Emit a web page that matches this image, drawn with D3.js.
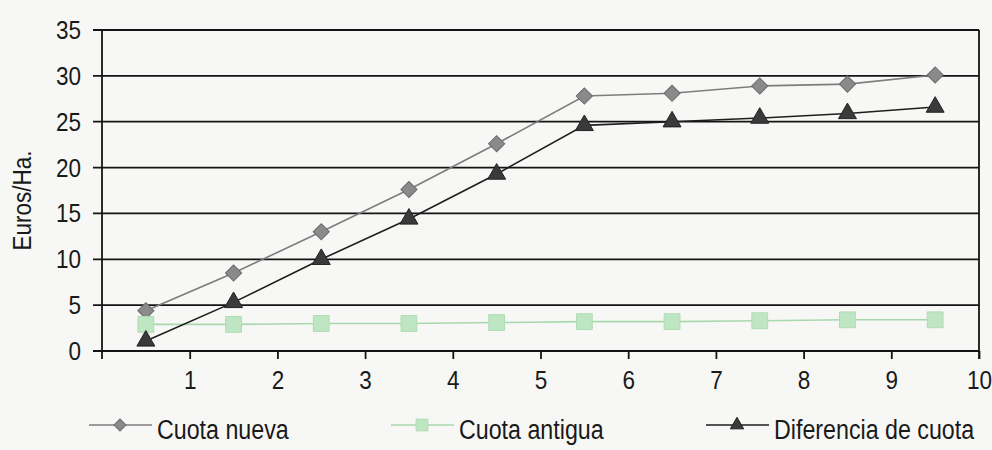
<!DOCTYPE html>
<html>
<head>
<meta charset="utf-8">
<script src="https://cdn.jsdelivr.net/npm/d3@7"></script>
<style>
  body { margin: 0; background: #f7f8f5; }
  svg { display: block; }
  text { font-family: "Liberation Sans", Arial, sans-serif; fill: #1a1a1a; }
</style>
</head>
<body>
<svg width="992" height="450"></svg>
<script>
const periods = [0.5, 1.5, 2.5, 3.5, 4.5, 5.5, 6.5, 7.5, 8.5, 9.5];
const cuotaNueva = [4.4, 8.5, 13.0, 17.6, 22.6, 27.8, 28.1, 28.9, 29.1, 30.1];
const cuotaAntigua = [2.9, 2.9, 3.0, 3.0, 3.1, 3.2, 3.2, 3.3, 3.4, 3.4];
const diferencia = [1.1, 5.3, 10.0, 14.4, 19.3, 24.6, 25.0, 25.4, 25.9, 26.6];
const xTicks = [1, 2, 3, 4, 5, 6, 7, 8, 9, 10];
const yTicks = [0, 5, 10, 15, 20, 25, 30, 35];
const seriesNames = ['Cuota nueva', 'Cuota antigua', 'Diferencia de cuota'];

const svg = d3.select('svg');
// no condensed font installed, squeeze horizontally instead
const AX_FS = '25px', AX_SQ = 'scale(0.9,1)';
const LG_FS = '28px', LG_SQ = 'scale(0.83,1)';

const x = d3.scaleLinear().domain([0, 10]).range([102, 979]);
const y = d3.scaleLinear().domain([0, 35]).range([351, 30]);

// gridlines + left ticks
svg.append('g')
  .selectAll('line')
  .data(yTicks)
  .join('line')
  .attr('x1', x(0) - 9)
  .attr('x2', x(10))
  .attr('y1', d => y(d))
  .attr('y2', d => y(d))
  .attr('stroke', '#141414')
  .attr('stroke-width', 1.8);

// y axis line, right border
[0, 10].forEach(v => {
  svg.append('line')
    .attr('x1', x(v)).attr('x2', x(v))
    .attr('y1', y(35)).attr('y2', y(0) + 8)
    .attr('stroke', '#141414').attr('stroke-width', 1.8);
});

// x axis
const xAxis = svg.append('g')
  .attr('transform', `translate(0,${y(0)})`)
  .call(d3.axisBottom(x).tickValues(xTicks).tickSize(8).tickPadding(12));
xAxis.select('.domain').remove();
xAxis.selectAll('line').attr('stroke', '#141414').attr('stroke-width', 1.8);
xAxis.selectAll('text')
  .attr('transform', AX_SQ)
  .style('font-family', '"Liberation Sans", Arial, sans-serif')
  .style('font-size', AX_FS)
  .attr('fill', '#1a1a1a');

// y labels
svg.append('g')
  .selectAll('text')
  .data(yTicks)
  .join('text')
  .attr('transform', d => `translate(81,${y(d)}) ${AX_SQ}`)
  .attr('dy', '0.36em')
  .attr('text-anchor', 'end')
  .style('font-size', AX_FS)
  .text(d => d);

svg.append('text')
  .attr('transform', `translate(31,${y(17.5) + 10}) rotate(-90) ${AX_SQ}`)
  .attr('text-anchor', 'middle')
  .style('font-size', AX_FS)
  .text('Euros/Ha.');

const styles = [
  { values: cuotaNueva, line: '#7d7d7d', fill: '#8a8a8a', stroke: '#6a6a6a', symbol: 'diamond' },
  { values: cuotaAntigua, line: '#a9d8ad', fill: '#bfe6c2', stroke: '#b0dcb3', symbol: 'square' },
  { values: diferencia, line: '#1e1e1e', fill: '#3a3a3a', stroke: '#222', symbol: 'triangle' }
];

function drawSymbol(g, kind, fill, stroke, k) {
  if (kind === 'diamond') {
    g.append('path')
      .attr('d', d3.symbol(d3.symbolSquare, 130 * k)())
      .attr('transform', 'rotate(45)')
      .attr('fill', fill).attr('stroke', stroke).attr('stroke-width', 1);
  } else if (kind === 'square') {
    g.append('path')
      .attr('d', d3.symbol(d3.symbolSquare, 250 * k)())
      .attr('fill', fill).attr('stroke', stroke).attr('stroke-width', 1);
  } else {
    g.append('path')
      .attr('d', d3.symbol(d3.symbolTriangle, 140 * k)())
      .attr('fill', fill).attr('stroke', stroke).attr('stroke-width', 1);
  }
}

const line = d3.line().x((d, i) => x(periods[i])).y(d => y(d));

styles.forEach(s => {
  svg.append('path')
    .datum(s.values)
    .attr('d', line)
    .attr('fill', 'none')
    .attr('stroke', s.line)
    .attr('stroke-width', 1.6);
});
styles.forEach(s => {
  s.values.forEach((v, i) => {
    const g = svg.append('g').attr('transform', `translate(${x(periods[i])},${y(v)})`);
    drawSymbol(g, s.symbol, s.fill, s.stroke, 1);
  });
});

// legend
const legendX = [89, 391, 706];
const legend = svg.append('g').attr('transform', 'translate(0,425)');
styles.forEach((s, i) => {
  const lg = legend.append('g').attr('transform', `translate(${legendX[i]},0)`);
  lg.append('line')
    .attr('x1', 0).attr('x2', 63)
    .attr('stroke', s.line).attr('stroke-width', 1.6);
  const m = lg.append('g').attr('transform', 'translate(31,0)');
  drawSymbol(m, s.symbol, s.fill, s.stroke, 0.55);
  lg.append('text')
    .attr('transform', `translate(68,4) ${LG_SQ}`)
    .attr('dy', '0.36em')
    .style('font-size', LG_FS)
    .text(seriesNames[i]);
});
</script>
</body>
</html>
